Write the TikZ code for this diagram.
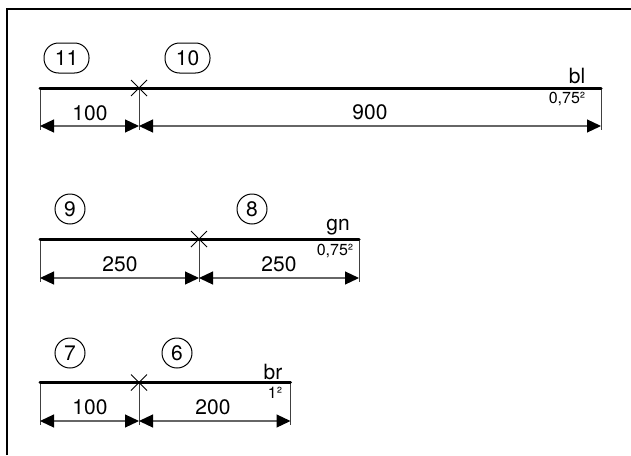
\documentclass[tikz,border=0pt]{standalone}
\usepackage{fontspec}
\setmainfont{TeX Gyre Heros}
\usetikzlibrary{arrows.meta}
\begin{document}
\begin{tikzpicture}[x=1pt,y=-1pt,
  frameln/.style={line width=2.2pt},
  wire/.style={line width=3pt,line cap=round},
  ext/.style={line width=0.9pt,draw=black!75},
  dimln/.style={line width=1.2pt,draw=black!60,{Triangle[length=14pt,width=13pt,color=black]}-{Triangle[length=14pt,width=13pt,color=black]}},
  lbl/.style={font=\fontsize{21}{23}\selectfont,inner sep=0pt},
  small/.style={font=\fontsize{16}{18}\selectfont,inner sep=0pt},
  refc/.style={draw,line width=1pt,circle,minimum size=30pt,inner sep=0pt,font=\fontsize{21}{23}\selectfont},
  refw/.style={draw,line width=1pt,rounded corners=14.5pt,minimum width=45pt,minimum height=30pt,inner sep=0pt,font=\fontsize{21}{23}\selectfont},
  crossln/.style={line width=1pt}]
\useasboundingbox (0,0) rectangle (631,455);
\coordinate (fa) at (6.8,455); \coordinate (fb) at (6.8,9); \coordinate (fc) at (631,9);
\draw[frameln] (fa) -- (fb) -- (fc);
% row 1
\coordinate (a0) at (40,88); \coordinate (a1) at (139,88); \coordinate (a2) at (601,88);
\coordinate (a0d) at (40,130); \coordinate (a1d) at (139,130); \coordinate (a2d) at (601,130);
\coordinate (a0m) at (40,126); \coordinate (a1m) at (139,126); \coordinate (a2m) at (601,126);
\draw[ext] (a0) -- (a0d); \draw[ext] (a1) -- (a1d); \draw[ext] (a2) -- (a2d);
\draw[wire] (a0) -- (a2);
\draw[dimln] (a0m) -- (a1m); \draw[dimln] (a1m) -- (a2m);
\draw[crossln] (131,80) -- (147,96) (131,96) -- (147,80);
\node[refw] (n11) at (66.5,58) {11};
\node[refw] (n10) at (187.5,58) {10};
\node[lbl] (t100a) at (90,113) {100};
\node[lbl] (t900) at (370,112) {900};
\node[lbl] (tbl) at (577,76.5) {bl};
\node[small] (t075a) at (567,99) {0,75²};
% row 2
\coordinate (b0) at (40,239); \coordinate (b1) at (199,239); \coordinate (b2) at (359,239);
\coordinate (b0d) at (40,282); \coordinate (b1d) at (199,282); \coordinate (b2d) at (359,282);
\coordinate (b0m) at (40,278); \coordinate (b1m) at (199,278); \coordinate (b2m) at (359,278);
\draw[ext] (b0) -- (b0d); \draw[ext] (b1) -- (b1d); \draw[ext] (b2) -- (b2d);
\draw[wire] (b0) -- (b2);
\draw[dimln] (b0m) -- (b1m); \draw[dimln] (b1m) -- (b2m);
\draw[crossln] (191,231) -- (207,247) (191,247) -- (207,231);
\node[refc] (n9) at (70,209) {9};
\node[refc] (n8) at (252,209) {8};
\node[lbl] (t250a) at (120,264) {250};
\node[lbl] (t250b) at (279,264) {250};
\node[lbl] (tgn) at (338,227) {gn};
\node[small] (t075b) at (335,251) {0,75²};
% row 3
\coordinate (c0) at (40,382.5); \coordinate (c1) at (139,382.5); \coordinate (c2) at (290.5,382.5);
\coordinate (c0d) at (40,425); \coordinate (c1d) at (139,425); \coordinate (c2d) at (290.5,425);
\coordinate (c0m) at (40,421); \coordinate (c1m) at (139,421); \coordinate (c2m) at (290.5,421);
\draw[ext] (c0) -- (c0d); \draw[ext] (c1) -- (c1d); \draw[ext] (c2) -- (c2d);
\draw[wire] (c0) -- (c2);
\draw[dimln] (c0m) -- (c1m); \draw[dimln] (c1m) -- (c2m);
\draw[crossln] (131,374.5) -- (147,390.5) (131,390.5) -- (147,374.5);
\node[refc] (n7) at (70,353) {7};
\node[refc] (n6) at (177,353) {6};
\node[lbl] (t100b) at (90,407) {100};
\node[lbl] (t200) at (213,407) {200};
\node[lbl] (tbr) at (273,372) {br};
\node[small] (t1) at (275,393) {1²};
\end{tikzpicture}
\end{document}
